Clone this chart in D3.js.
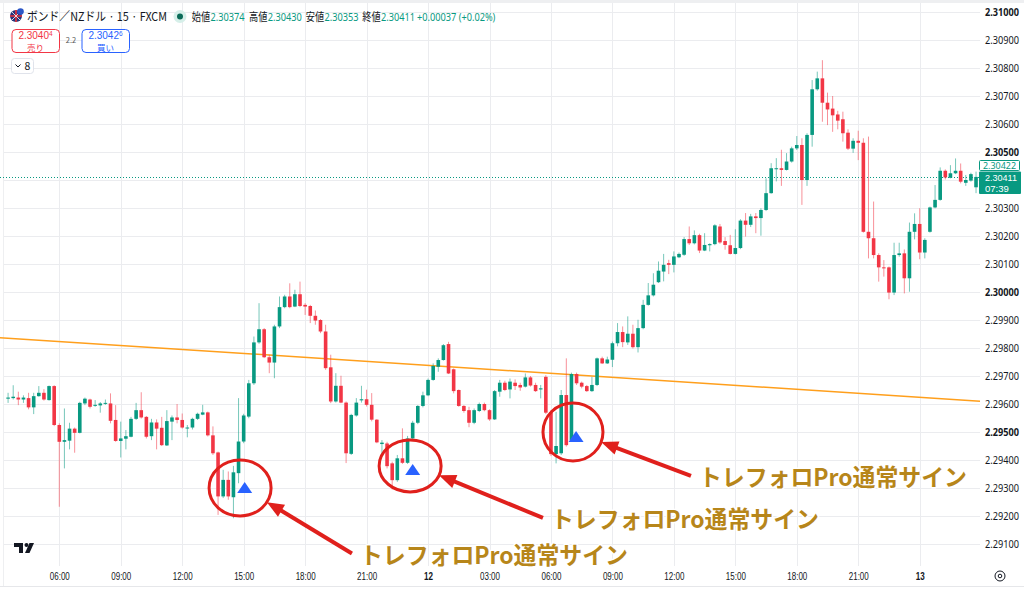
<!DOCTYPE html>
<html>
<head>
<meta charset="utf-8">
<script src="https://cdn.jsdelivr.net/npm/d3@7"></script>
<style>
  body { margin: 0; background: #fff; }
  svg { display: block; }
</style>
</head>
<body>
<div id="chart"></div>
<script>
// 15-minute candles (index 0 = 03:30)
var opens = [
  2.29619, 2.29621, 2.29623, 2.29616, 2.29621, 2.29588, 2.29628, 2.29640, 2.29614, 2.29664,
  2.29525, 2.29465, 2.29469, 2.29512, 2.29497, 2.29602, 2.29616, 2.29595, 2.29595, 2.29602,
  2.29602, 2.29543, 2.29468, 2.29476, 2.29483, 2.29547, 2.29578, 2.29554, 2.29485, 2.29534,
  2.29515, 2.29452, 2.29537, 2.29552, 2.29543, 2.29514, 2.29516, 2.29547, 2.29562, 2.29570,
  2.29488, 2.29427, 2.29270, 2.29329, 2.29267, 2.29353, 2.29466, 2.29555, 2.29674, 2.29820,
  2.29867, 2.29767, 2.29748, 2.29877, 2.29946, 2.29984, 2.29948, 2.29992, 2.29954, 2.29950,
  2.29915, 2.29900, 2.29859, 2.29731, 2.29609, 2.29665, 2.29605, 2.29422, 2.29559, 2.29613,
  2.29617, 2.29597, 2.29544, 2.29457, 2.29459, 2.29388, 2.29328, 2.29406, 2.29390, 2.29477,
  2.29533, 2.29593, 2.29631, 2.29686, 2.29733, 2.29757, 2.29814, 2.29724, 2.29650, 2.29593,
  2.29578, 2.29533, 2.29575, 2.29600, 2.29578, 2.29545, 2.29644, 2.29676, 2.29652, 2.29676,
  2.29668, 2.29662, 2.29695, 2.29668, 2.29652, 2.29697, 2.29571, 2.29421, 2.29424, 2.29632,
  2.29471, 2.29707, 2.29676, 2.29664, 2.29646, 2.29668, 2.29763, 2.29745, 2.29758, 2.29817,
  2.29857, 2.29820, 2.29851, 2.29803, 2.29871, 2.29954, 2.29988, 2.30035, 2.30073, 2.30103,
  2.30097, 2.30124, 2.30133, 2.30189, 2.30174, 2.30203, 2.30148, 2.30167, 2.30171, 2.30234,
  2.30182, 2.30167, 2.30136, 2.30157, 2.30255, 2.30240, 2.30270, 2.30264, 2.30293, 2.30353,
  2.30439, 2.30442, 2.30436, 2.30466, 2.30513, 2.30525, 2.30400, 2.30561, 2.30724, 2.30763,
  2.30676, 2.30655, 2.30634, 2.30617, 2.30569, 2.30512, 2.30540, 2.30533, 2.30215, 2.30192,
  2.30132, 2.30088, 2.30088, 2.29998, 2.30132, 2.30138, 2.30049, 2.30215, 2.30243, 2.30141,
  2.30215, 2.30302, 2.30329, 2.30433, 2.30408, 2.30424, 2.30433, 2.30390, 2.30398, 2.30374
];
var highs = [
  2.29640, 2.29667, 2.29644, 2.29631, 2.29640, 2.29640, 2.29664, 2.29653, 2.29666, 2.29667,
  2.29531, 2.29584, 2.29533, 2.29516, 2.29608, 2.29623, 2.29619, 2.29614, 2.29607, 2.29616,
  2.29638, 2.29596, 2.29537, 2.29507, 2.29554, 2.29604, 2.29642, 2.29557, 2.29547, 2.29545,
  2.29554, 2.29578, 2.29559, 2.29600, 2.29566, 2.29525, 2.29551, 2.29569, 2.29597, 2.29573,
  2.29520, 2.29430, 2.29365, 2.29359, 2.29379, 2.29621, 2.29565, 2.29686, 2.29841, 2.29960,
  2.29871, 2.29776, 2.29883, 2.29984, 2.29990, 2.30031, 2.30008, 2.30037, 2.29960, 2.29954,
  2.29934, 2.29903, 2.29883, 2.29776, 2.29710, 2.29701, 2.29609, 2.29565, 2.29621, 2.29665,
  2.29651, 2.29639, 2.29546, 2.29471, 2.29465, 2.29394, 2.29418, 2.29513, 2.29486, 2.29540,
  2.29596, 2.29644, 2.29691, 2.29745, 2.29763, 2.29814, 2.29822, 2.29727, 2.29652, 2.29596,
  2.29590, 2.29584, 2.29605, 2.29605, 2.29581, 2.29650, 2.29686, 2.29683, 2.29691, 2.29688,
  2.29676, 2.29709, 2.29700, 2.29676, 2.29668, 2.29703, 2.29578, 2.29572, 2.29650, 2.29763,
  2.29712, 2.29712, 2.29680, 2.29668, 2.29697, 2.29766, 2.29769, 2.29769, 2.29823, 2.29889,
  2.29877, 2.29913, 2.29883, 2.29901, 2.29972, 2.30032, 2.30067, 2.30109, 2.30136, 2.30115,
  2.30145, 2.30141, 2.30196, 2.30234, 2.30220, 2.30208, 2.30210, 2.30174, 2.30242, 2.30243,
  2.30196, 2.30204, 2.30224, 2.30260, 2.30282, 2.30279, 2.30282, 2.30299, 2.30406, 2.30460,
  2.30478, 2.30508, 2.30496, 2.30519, 2.30557, 2.30549, 2.30567, 2.30757, 2.30787, 2.30828,
  2.30712, 2.30700, 2.30647, 2.30644, 2.30581, 2.30549, 2.30576, 2.30549, 2.30555, 2.30323,
  2.30138, 2.30114, 2.30091, 2.30176, 2.30176, 2.30152, 2.30248, 2.30281, 2.30299, 2.30192,
  2.30305, 2.30382, 2.30445, 2.30438, 2.30453, 2.30477, 2.30459, 2.30418, 2.30426, 2.30430
];
var lows = [
  2.29604, 2.29616, 2.29596, 2.29604, 2.29581, 2.29564, 2.29626, 2.29612, 2.29612, 2.29521,
  2.29233, 2.29370, 2.29438, 2.29426, 2.29495, 2.29596, 2.29584, 2.29590, 2.29569, 2.29597,
  2.29531, 2.29465, 2.29409, 2.29438, 2.29481, 2.29543, 2.29548, 2.29477, 2.29471, 2.29438,
  2.29450, 2.29450, 2.29471, 2.29531, 2.29512, 2.29481, 2.29509, 2.29543, 2.29560, 2.29484,
  2.29418, 2.29204, 2.29264, 2.29258, 2.29192, 2.29317, 2.29460, 2.29549, 2.29668, 2.29815,
  2.29764, 2.29710, 2.29692, 2.29871, 2.29942, 2.29942, 2.29946, 2.29946, 2.29918, 2.29889,
  2.29883, 2.29853, 2.29722, 2.29603, 2.29605, 2.29603, 2.29389, 2.29418, 2.29555, 2.29605,
  2.29591, 2.29538, 2.29460, 2.29418, 2.29370, 2.29295, 2.29322, 2.29386, 2.29386, 2.29474,
  2.29528, 2.29588, 2.29628, 2.29683, 2.29715, 2.29755, 2.29707, 2.29638, 2.29590, 2.29569,
  2.29517, 2.29528, 2.29571, 2.29574, 2.29540, 2.29543, 2.29626, 2.29646, 2.29620, 2.29650,
  2.29647, 2.29659, 2.29662, 2.29643, 2.29620, 2.29564, 2.29414, 2.29388, 2.29418, 2.29448,
  2.29465, 2.29668, 2.29656, 2.29643, 2.29643, 2.29664, 2.29743, 2.29743, 2.29732, 2.29806,
  2.29803, 2.29811, 2.29798, 2.29784, 2.29867, 2.29951, 2.29984, 2.30032, 2.30038, 2.30064,
  2.30070, 2.30121, 2.30129, 2.30168, 2.30170, 2.30139, 2.30146, 2.30145, 2.30167, 2.30172,
  2.30151, 2.30134, 2.30134, 2.30153, 2.30198, 2.30232, 2.30210, 2.30201, 2.30289, 2.30351,
  2.30395, 2.30379, 2.30434, 2.30462, 2.30507, 2.30311, 2.30379, 2.30519, 2.30719, 2.30608,
  2.30596, 2.30572, 2.30581, 2.30537, 2.30507, 2.30497, 2.30471, 2.30212, 2.30120, 2.30120,
  2.30037, 2.30055, 2.29974, 2.29989, 2.30126, 2.29995, 2.30001, 2.30188, 2.30117, 2.30120,
  2.30212, 2.30299, 2.30326, 2.30402, 2.30406, 2.30421, 2.30388, 2.30379, 2.30394, 2.30353
];
var closes = [
  2.29623, 2.29626, 2.29616, 2.29623, 2.29588, 2.29628, 2.29640, 2.29616, 2.29664, 2.29525,
  2.29465, 2.29471, 2.29512, 2.29497, 2.29604, 2.29619, 2.29590, 2.29597, 2.29602, 2.29604,
  2.29540, 2.29468, 2.29477, 2.29485, 2.29547, 2.29578, 2.29552, 2.29483, 2.29534, 2.29512,
  2.29453, 2.29539, 2.29552, 2.29543, 2.29516, 2.29516, 2.29547, 2.29565, 2.29570, 2.29488,
  2.29424, 2.29270, 2.29329, 2.29270, 2.29356, 2.29466, 2.29559, 2.29674, 2.29820, 2.29867,
  2.29767, 2.29748, 2.29877, 2.29946, 2.29984, 2.29946, 2.29992, 2.29950, 2.29948, 2.29915,
  2.29898, 2.29859, 2.29728, 2.29609, 2.29665, 2.29605, 2.29424, 2.29561, 2.29605, 2.29617,
  2.29597, 2.29544, 2.29463, 2.29462, 2.29378, 2.29328, 2.29406, 2.29390, 2.29477, 2.29533,
  2.29593, 2.29631, 2.29686, 2.29736, 2.29757, 2.29810, 2.29709, 2.29646, 2.29593, 2.29575,
  2.29533, 2.29578, 2.29600, 2.29578, 2.29545, 2.29646, 2.29676, 2.29650, 2.29680, 2.29664,
  2.29659, 2.29695, 2.29666, 2.29646, 2.29656, 2.29569, 2.29421, 2.29450, 2.29632, 2.29453,
  2.29707, 2.29674, 2.29662, 2.29646, 2.29668, 2.29763, 2.29745, 2.29759, 2.29817, 2.29857,
  2.29821, 2.29851, 2.29803, 2.29871, 2.29954, 2.29988, 2.30026, 2.30076, 2.30097, 2.30097,
  2.30127, 2.30136, 2.30189, 2.30174, 2.30203, 2.30148, 2.30168, 2.30171, 2.30238, 2.30177,
  2.30168, 2.30136, 2.30157, 2.30255, 2.30240, 2.30270, 2.30264, 2.30293, 2.30353, 2.30442,
  2.30442, 2.30436, 2.30466, 2.30513, 2.30525, 2.30400, 2.30561, 2.30724, 2.30763, 2.30676,
  2.30652, 2.30631, 2.30612, 2.30567, 2.30512, 2.30540, 2.30533, 2.30215, 2.30192, 2.30132,
  2.30088, 2.30085, 2.29998, 2.30132, 2.30138, 2.30049, 2.30215, 2.30243, 2.30141, 2.30186,
  2.30302, 2.30329, 2.30433, 2.30409, 2.30424, 2.30433, 2.30394, 2.30400, 2.30421, 2.30411
];

// time axis: candle index of each gridline and its label
var timeTickIdx = [10, 22, 34, 46, 58, 70, 82, 94, 106, 118, 130, 142, 154, 166, 178];
var timeTickLabels = ["06:00", "09:00", "12:00", "15:00", "18:00", "21:00", "12", "03:00",
                      "06:00", "09:00", "12:00", "15:00", "18:00", "21:00", "13"];
var priceTicks = [2.291, 2.292, 2.293, 2.294, 2.295, 2.296, 2.297, 2.298, 2.299, 2.300,
                  2.301, 2.302, 2.303, 2.304, 2.305, 2.306, 2.307, 2.308, 2.309, 2.310];

// orange trend line (two anchor points)
var trendIdx = [-1.6, 189.8];
var trendPrice = [2.29837, 2.29610];

// signal markers / annotations
var signalIdx = [46.2, 79.0, 110.9];
var signalPrice = [2.29282, 2.29346, 2.29464];
var circleIdx = [45.3, 78.5, 110.3];
var circlePrice = [2.29300, 2.29379, 2.29500];
var labelIdx = [68.7, 106.0, 134.9];
var labelPrice = [2.29059, 2.29186, 2.29336];
var labelText = "トレフォロPro通常サイン";

var lastPrice = 2.30411, markPrice = 2.30422;
var headerQuote = [["始値", "2.30374"], ["高値", "2.30430"], ["安値", "2.30353"], ["終値", "2.30411"]];
var headerChange = "+0.00037 (+0.02%)";

var W = 1024, H = 590, plotR = 980, plotB = 566;
var GREEN = "#089981", RED = "#f23645";
var JP = "'Noto Sans CJK JP', 'Noto Sans', sans-serif";
var LAT = "'Liberation Sans', Arial, sans-serif";

var svg = d3.select("#chart").append("svg")
  .attr("width", W).attr("height", H)
  .style("font-family", JP);

var x = d3.scaleLinear().domain([10, 178]).range([59.3, 919.7]);
var y = d3.scaleLinear().domain([2.29, 2.31]).range([572, 12]);

// frame
svg.append("rect").attr("x", 0).attr("y", 0).attr("width", W).attr("height", 3).attr("fill", "#eeeff1");
svg.append("line").attr("x1", 0).attr("x2", W).attr("y1", 586.5).attr("y2", 586.5)
  .attr("stroke", "#e6e7ea");
svg.append("line").attr("x1", 3.5).attr("x2", 3.5).attr("y1", 3).attr("y2", 586)
  .attr("stroke", "#eeeff1");

// grid
var grid = svg.append("g");
grid.selectAll(".vg").data(timeTickIdx).enter().append("line")
  .attr("x1", d => Math.round(x(d)) + 0.5).attr("x2", d => Math.round(x(d)) + 0.5)
  .attr("y1", 3).attr("y2", plotB)
  .attr("stroke", "#ebecef");
grid.selectAll(".hg").data(priceTicks).enter().append("line")
  .attr("x1", 4).attr("x2", plotR)
  .attr("y1", d => Math.round(y(d)) + 0.5).attr("y2", d => Math.round(y(d)) + 0.5)
  .attr("stroke", "#ebecef");

svg.append("clipPath").attr("id", "plot")
  .append("rect").attr("x", 0).attr("y", 3).attr("width", plotR).attr("height", plotB - 3);

var plot = svg.append("g").attr("clip-path", "url(#plot)");

// trend line
plot.append("line")
  .attr("x1", x(trendIdx[0])).attr("y1", y(trendPrice[0]))
  .attr("x2", x(trendIdx[1])).attr("y2", y(trendPrice[1]))
  .attr("stroke", "#ff9f1c").attr("stroke-width", 1.5);

// last price dotted line
plot.append("line")
  .attr("x1", 0).attr("x2", plotR)
  .attr("y1", Math.round(y(lastPrice)) + 0.5).attr("y2", Math.round(y(lastPrice)) + 0.5)
  .attr("stroke", GREEN).attr("stroke-dasharray", "1,2");

// candles
var candles = opens.map((o, i) => ({i: i, o: o, h: highs[i], l: lows[i], c: closes[i]}));
var bw = 3.6;
var cg = plot.append("g");
cg.selectAll(".wick").data(candles).enter().append("line")
  .attr("x1", d => x(d.i)).attr("x2", d => x(d.i))
  .attr("y1", d => y(d.h)).attr("y2", d => y(d.l))
  .attr("stroke", d => d.c >= d.o ? GREEN : RED)
  .attr("stroke-opacity", 0.55)
  .attr("stroke-width", 1);
cg.selectAll(".body").data(candles).enter().append("rect")
  .attr("x", d => x(d.i) - bw / 2)
  .attr("y", d => y(Math.max(d.o, d.c)))
  .attr("width", bw)
  .attr("height", d => Math.max(1, Math.abs(y(d.o) - y(d.c))))
  .attr("fill", d => d.c >= d.o ? GREEN : RED);

// price axis (the 2.30400 label sits under the last-price box, as in the original)
var yAxis = d3.axisRight(y)
  .tickValues(priceTicks.filter(p => Math.abs(y(p) - y(lastPrice)) > 12))
  .tickSize(0).tickPadding(0)
  .tickFormat(d3.format(".5f"));
var ya = svg.append("g").attr("transform", "translate(985,0)").call(yAxis);
ya.select(".domain").remove();
ya.selectAll("text")
  .attr("fill", "#131722")
  .style("font-family", "'Noto Sans', sans-serif")
  .style("font-size", "10.5px")
  .style("font-weight", d => Math.round(d * 1000) % 5 === 0 ? 700 : 400)
  .attr("textLength", 34).attr("lengthAdjust", "spacingAndGlyphs");

// time axis
var xAxis = d3.axisBottom(x).tickValues(timeTickIdx).tickSize(0).tickPadding(0)
  .tickFormat((d, i) => timeTickLabels[i]);
var xa = svg.append("g").attr("transform", "translate(0,573)").call(xAxis);
xa.select(".domain").remove();
xa.selectAll("text")
  .attr("fill", "#131722")
  .style("font-family", LAT)
  .style("font-size", "10px")
  .style("font-weight", (d, i) => timeTickLabels[i].length > 2 ? 400 : 700)
  .attr("textLength", (d, i) => timeTickLabels[i].length > 2 ? 20 : 9)
  .attr("lengthAdjust", "spacingAndGlyphs");

// red circles, arrows, blue triangles and labels
var ann = svg.append("g");
var radii = [[31, 28], [31, 26], [30, 29]];
signalIdx.forEach(function(si, k) {
  var cx = x(circleIdx[k]), cy = y(circlePrice[k]);
  var rx = radii[k][0], ry = radii[k][1];
  ann.append("ellipse").attr("cx", cx).attr("cy", cy).attr("rx", rx).attr("ry", ry)
    .attr("fill", "none").attr("stroke", "#e0201c").attr("stroke-width", 3);

  var tx = x(si), ty = y(signalPrice[k]);
  ann.append("path")
    .attr("d", "M" + (tx - 7.5) + "," + ty + "L" + (tx + 7.5) + "," + ty + "L" + tx + "," + (ty - 11) + "Z")
    .attr("fill", "#2962ff");

  var lx = x(labelIdx[k]), ly = y(labelPrice[k]);
  var ax = lx - 8, ay = ly - 2;
  var dx = ax - cx, dy = ay - cy, len = Math.sqrt(dx * dx + dy * dy);
  var ux = dx / len, uy = dy / len;
  var hx = cx + ux * rx, hy = cy + uy * ry;
  var hl = 17, hw = 7;
  var bx = hx + ux * hl, by = hy + uy * hl;
  ann.append("line").attr("x1", ax).attr("y1", ay).attr("x2", bx - ux * 2).attr("y2", by - uy * 2)
    .attr("stroke", "#e0201c").attr("stroke-width", 4);
  ann.append("path")
    .attr("d", "M" + hx + "," + hy +
      "L" + (bx - uy * hw) + "," + (by + ux * hw) +
      "L" + (bx + uy * hw) + "," + (by - ux * hw) + "Z")
    .attr("fill", "#e0201c");

  ann.append("text").attr("x", lx).attr("y", ly).attr("dy", "0.36em")
    .attr("font-size", 23.5).attr("font-weight", 700)
    .attr("fill", "#b7861a")
    .attr("stroke", "#fff").attr("stroke-width", 3).attr("stroke-linejoin", "round")
    .attr("paint-order", "stroke")
    .attr("textLength", 268).attr("lengthAdjust", "spacingAndGlyphs")
    .text(labelText);
});

// price labels on axis
var mk = svg.append("g");
mk.append("rect").attr("x", 979.5).attr("y", 160.5).attr("width", 40).attr("height", 10)
  .attr("fill", "#fff").attr("stroke", GREEN).attr("rx", 1);
mk.append("text").attr("x", 999.5).attr("y", 168.5).attr("text-anchor", "middle")
  .attr("fill", GREEN).style("font-family", "'Noto Sans', sans-serif").style("font-size", "9.5px")
  .attr("textLength", 33).attr("lengthAdjust", "spacingAndGlyphs")
  .text(d3.format(".5f")(markPrice));
mk.append("rect").attr("x", 979).attr("y", 171.5).attr("width", 42).attr("height", 22.5)
  .attr("fill", GREEN).attr("rx", 1);
mk.append("text").attr("x", 985).attr("y", 180.5).attr("fill", "#fff")
  .style("font-family", LAT).style("font-size", "9.5px")
  .attr("textLength", 32).attr("lengthAdjust", "spacingAndGlyphs")
  .text(d3.format(".5f")(lastPrice));
mk.append("text").attr("x", 985).attr("y", 191.5).attr("fill", "#fff")
  .style("font-family", LAT).style("font-size", "9.5px")
  .text("07:39");

// header
var hd = svg.append("g");
hd.append("circle").attr("cx", 16).attr("cy", 16).attr("r", 6).attr("fill", "#24357a");
hd.append("path").attr("d", "M10,16h12M16,10v12").attr("stroke", "#e8313a").attr("stroke-width", 1.6);
hd.append("path").attr("d", "M11.8,11.8l8.4,8.4M20.2,11.8l-8.4,8.4").attr("stroke", "#fff").attr("stroke-width", 0.8);
hd.append("circle").attr("cx", 20.5).attr("cy", 11.5).attr("r", 3.3).attr("fill", "#2d57c7");
hd.append("text").attr("x", 27).attr("y", 21)
  .attr("font-size", 12).attr("fill", "#131722")
  .attr("textLength", 140).attr("lengthAdjust", "spacingAndGlyphs")
  .text("ボンド／NZドル · 15 · FXCM");
hd.append("circle").attr("cx", 180).attr("cy", 16.5).attr("r", 6.5).attr("fill", "#d6efe9");
hd.append("circle").attr("cx", 180).attr("cy", 16.5).attr("r", 3).attr("fill", "#0b6b58");

// OHLC read-out: narrow, so drawn in a horizontally squeezed group
var sq = 0.8;
var qg = hd.append("g").attr("transform", "translate(192,21) scale(" + sq + ",1)");
var qStart = [191.7, 249, 305.7, 362.3];
headerQuote.forEach(function(q, k) {
  var lab = qg.append("text").attr("x", (qStart[k] - 192) / sq).attr("y", 0)
    .attr("font-size", 11.5).attr("fill", "#131722").text(q[0]);
  var w = lab.node().getComputedTextLength();
  qg.append("text").attr("x", (qStart[k] - 192) / sq + w + 0.5).attr("y", 0)
    .attr("font-size", 11.5).attr("fill", GREEN)
    .style("font-family", "'Noto Sans', sans-serif").text(q[1]);
});
qg.append("text").attr("x", (417 - 192) / sq).attr("y", 0)
  .attr("font-size", 11.5).attr("fill", GREEN)
  .style("font-family", "'Noto Sans', sans-serif").text(headerChange);

// sell / buy boxes
function tradeBox(x0, color, main, sup, word) {
  hd.append("rect").attr("x", x0 + 0.5).attr("y", 29.5).attr("width", 47.5).attr("height", 23)
    .attr("rx", 4).attr("fill", "#fff").attr("stroke", color);
  var t = hd.append("text").attr("x", x0 + 24).attr("y", 38.5).attr("text-anchor", "middle")
    .style("font-family", LAT).attr("font-size", 10).attr("fill", color);
  t.append("tspan").text(main);
  t.append("tspan").attr("dy", -3).attr("font-size", 6.5).text(sup);
  hd.append("text").attr("x", x0 + 24).attr("y", 50.8).attr("text-anchor", "middle")
    .attr("font-size", 8.5).attr("fill", color).text(word);
}
tradeBox(11.5, RED, "2.3040", "4", "売り");
tradeBox(81.5, "#2962ff", "2.3042", "6", "買い");
hd.append("text").attr("x", 71).attr("y", 43).attr("text-anchor", "middle")
  .attr("font-size", 7.5).attr("fill", "#555").text("2.2");
hd.append("rect").attr("x", 11.5).attr("y", 58.5).attr("width", 22).attr("height", 15)
  .attr("rx", 3).attr("fill", "#fff").attr("stroke", "#e0e3eb");
hd.append("path").attr("d", "M15.5,64.5l2.5,2.5l2.5,-2.5").attr("fill", "none")
  .attr("stroke", "#131722").attr("stroke-width", 1);
hd.append("text").attr("x", 24.5).attr("y", 70).attr("font-size", 10.5).attr("fill", "#131722").text("8");

// TradingView logo
hd.append("path").attr("d", "M14,543h9v10h-4v-6h-5z").attr("fill", "#131722");
hd.append("circle").attr("cx", 26.5).attr("cy", 545).attr("r", 2).attr("fill", "#131722");
hd.append("path").attr("d", "M29.5,543h4.5l-4.5,10h-4.5z").attr("fill", "#131722");

// settings icon
hd.append("circle").attr("cx", 1000).attr("cy", 576).attr("r", 5)
  .attr("fill", "none").attr("stroke", "#131722").attr("stroke-width", 1);
hd.append("circle").attr("cx", 1000).attr("cy", 576).attr("r", 1.8)
  .attr("fill", "none").attr("stroke", "#131722").attr("stroke-width", 1);
</script>
</body>
</html>
